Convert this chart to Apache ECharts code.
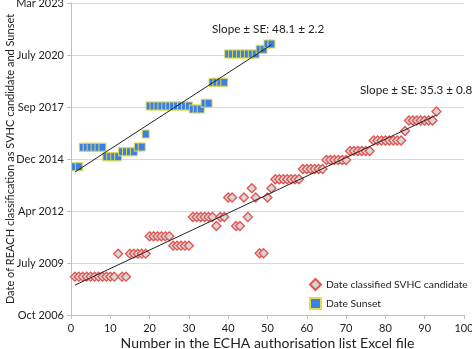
<!DOCTYPE html>
<html>
<head>
<meta charset="utf-8">
<script src="https://cdn.jsdelivr.net/npm/echarts@6/dist/echarts.min.js"></script>
<style>
    html, body { margin: 0; padding: 0; background: #fff; }
    #chart { width: 472px; height: 349px; }
</style>
</head>
<body>
<div id="chart"></div>
<script>
    // dates are day serials (1899-12-30 based, like the spreadsheet)
    var yTickLabels = ['Oct 2006', 'July 2009', 'Apr 2012', 'Dec 2014', 'Sep 2017', 'July 2020', 'Mar 2023'];
    var xTicks = [0, 10, 20, 30, 40, 50, 60, 70, 80, 90, 100];

    // Date classified SVHC candidate, item 1..93
    var svhcDays = [
        39737, 39737, 39737, 39737, 39737, 39737, 39737, 39737, 39737, 39737, 39737,
        40179, 39737, 39737,
        40179, 40179, 40179, 40179, 40179,
        40513, 40513, 40513, 40513, 40513, 40513,
        40333, 40333, 40333, 40333, 40333,
        40885, 40885, 40885, 40885, 40885, 40885,
        40712, 40885, 40885,
        41260, 41260, 40712, 40712, 41260, 40885, 41437, 41260,
        40187, 40187, 41260, 41437,
        41610, 41610, 41610, 41610, 41610, 41610, 41610,
        41808, 41808, 41808, 41808, 41808, 41808,
        41981, 41981, 41981, 41981, 41981, 41981,
        42154, 42154, 42154, 42154, 42154, 42154,
        42356, 42356, 42356, 42356, 42356, 42356, 42356, 42356,
        42538,
        42740, 42740, 42740, 42740, 42740, 42740, 42740,
        42913
    ];

    // Date Sunset, item 1..51
    var sunsetDays = [
        41852, 41852,
        42225, 42225, 42225, 42225, 42225, 42225,
        42044, 42044, 42044, 42044,
        42140, 42140, 42140, 42140,
        42230, 42230,
        42481,
        43019, 43019, 43019, 43019, 43019, 43019, 43019, 43019, 43019, 43019, 43019,
        42961, 42961, 42961,
        43071, 43071,
        43475, 43475, 43475, 43475,
        44019, 44019, 44019, 44019, 44019, 44019, 44019, 44019,
        44110, 44110,
        44212, 44212
    ];

    var svhcName = 'Date classified SVHC candidate';
    var sunsetName = 'Date Sunset';
    var svhcSlopeText = 'Slope \u00b1 SE: 35.3 \u00b1 0.8';
    var sunsetSlopeText = 'Slope \u00b1 SE: 48.1 \u00b1 2.2';

    var FONT = 'Lato';

    function toPoints(values) {
        var pts = [];
        for (var i = 0; i < values.length; i++) {
            pts.push([i + 1, values[i]]);
        }
        return pts;
    }

    // least squares line over the item range
    function trend(values) {
        var n = values.length, sx = 0, sy = 0, sxx = 0, sxy = 0;
        for (var i = 0; i < n; i++) {
            var x = i + 1, y = values[i];
            sx += x; sy += y; sxx += x * x; sxy += x * y;
        }
        var b = (n * sxy - sx * sy) / (n * sxx - sx * sx);
        var a = (sy - b * sx) / n;
        return [[1, a + b], [n, a + b * n]];
    }

    var chart = echarts.init(document.getElementById('chart'));

    var option = {
        animation: false,
        textStyle: { fontFamily: FONT },
        grid: { left: 71, right: 8, top: 3, bottom: 34, containLabel: false, outerBoundsMode: 'none' },
        xAxis: {
            type: 'value',
            min: xTicks[0],
            max: xTicks[xTicks.length - 1],
            interval: 10,
            name: 'Number in the ECHA authorisation list Excel file',
            nameLocation: 'middle',
            nameGap: 21,
            nameMoveOverlap: false,
            nameTextStyle: { fontFamily: FONT, fontSize: 14, color: '#222' },
            axisLine: { lineStyle: { color: '#bfbfbf' } },
            axisTick: { show: true, length: 4, lineStyle: { color: '#bfbfbf' } },
            axisLabel: { fontFamily: FONT, fontSize: 11, color: '#222', margin: 8 },
            splitLine: { show: false }
        },
        yAxis: {
            type: 'value',
            min: 39000,
            max: 45000,
            interval: 1000,
            name: 'Date of REACH classification as SVHC candidate and Sunset',
            nameLocation: 'middle',
            nameGap: 55,
            nameMoveOverlap: false,
            nameTextStyle: { fontFamily: FONT, fontSize: 11, color: '#222' },
            axisLine: { show: true, lineStyle: { color: '#bfbfbf' } },
            axisTick: { show: true, length: 4, lineStyle: { color: '#bfbfbf' } },
            axisLabel: {
                fontFamily: FONT, fontSize: 11, color: '#222', margin: 7,
                formatter: function (v) {
                    return yTickLabels[Math.round((v - 39000) / 1000)];
                }
            },
            splitLine: { show: true, lineStyle: { color: '#d9d9d9' } }
        },
        legend: {
            orient: 'vertical',
            left: 304,
            top: 273,
            itemWidth: 11,
            itemHeight: 11,
            itemGap: 6,
            textStyle: { fontFamily: FONT, fontSize: 10.3, color: '#222' },
            data: [
                { name: svhcName, icon: 'diamond' },
                { name: sunsetName, icon: 'rect' }
            ]
        },
        series: [
            {
                name: svhcName,
                type: 'scatter',
                symbol: 'diamond',
                symbolSize: 9,
                itemStyle: { color: '#d6d6d6', borderColor: '#e4534f', borderWidth: 1.3, opacity: 1 },
                data: toPoints(svhcDays),
                z: 3
            },
            {
                name: sunsetName,
                type: 'scatter',
                symbol: 'rect',
                symbolSize: [7, 8],
                itemStyle: { color: '#3b80e6', borderColor: '#e3dc4b', borderWidth: 1, opacity: 1 },
                data: toPoints(sunsetDays),
                z: 3
            },
            {
                name: 'svhcTrend',
                type: 'line',
                symbol: 'none',
                silent: true,
                lineStyle: { color: '#222', width: 1 },
                data: trend(svhcDays),
                z: 4
            },
            {
                name: 'sunsetTrend',
                type: 'line',
                symbol: 'none',
                silent: true,
                lineStyle: { color: '#222', width: 1 },
                data: trend(sunsetDays),
                z: 4
            }
        ],
        graphic: [
            {
                type: 'text', left: 212, top: 23,
                style: { text: sunsetSlopeText, fontFamily: FONT, fontSize: 11.7, fill: '#222' }
            },
            {
                type: 'text', left: 360, top: 84,
                style: { text: svhcSlopeText, fontFamily: FONT, fontSize: 11.7, fill: '#222' }
            }
        ]
    };

    chart.setOption(option);
</script>
</body>
</html>
